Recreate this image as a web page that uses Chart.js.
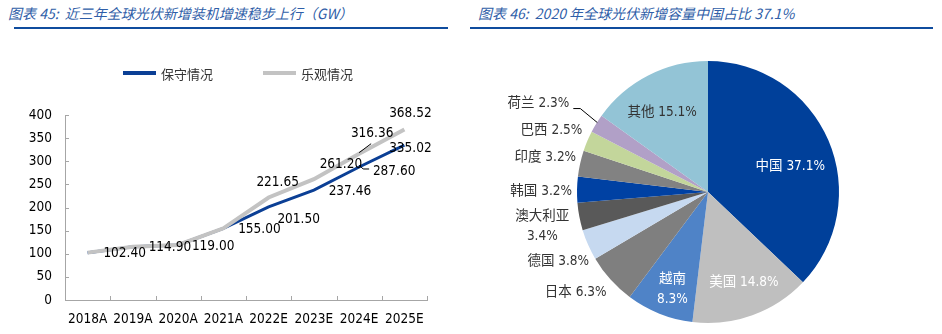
<!DOCTYPE html>
<html lang="zh">
<head>
<meta charset="UTF-8">
<title>全球光伏新增装机</title>
<style>
  body {
    margin: 0;
    width: 942px;
    height: 334px;
    position: relative;
    overflow: hidden;
    background: #fff;
    font-family: "Noto Sans CJK SC", sans-serif;
  }
  .title {
    position: absolute;
    top: 3px;
    font-size: 14px;
    font-style: italic;
    color: #2f5ea8;
    white-space: pre;
  }
  .rule {
    position: absolute;
    top: 27px;
    height: 2px;
    background: #0f4c9e;
  }
  .box {
    position: absolute;
    top: 40px;
    height: 294px;
  }
</style>
</head>
<body>
<div class="title" style="left:8px">图表 45:  近三年全球光伏新增装机增速稳步上行（GW）</div>
<div class="rule" style="left:14px;width:434px"></div>
<div class="title" style="left:478px">图表 46:  2020 年全球光伏新增容量中国占比 37.1%</div>
<div class="rule" style="left:470px;width:463px"></div>
<div class="box" style="left:0;width:460px"><canvas id="lineChart"></canvas></div>
<div class="box" style="left:470px;width:472px"><canvas id="pieChart"></canvas></div>

<script src="https://cdn.jsdelivr.net/npm/chart.js"></script>
<script>
// ---- data ----
const years = ['2018A', '2019A', '2020A', '2021A', '2022E', '2023E', '2024E', '2025E'];
const conservative = [102.40, 114.90, 119.00, 155.00, 201.50, 237.46, 287.60, 335.02];
const optimistic = [102.40, 114.90, 119.00, 155.00, 221.65, 261.20, 316.36, 368.52];
const seriesNames = ['保守情况', '乐观情况'];
const yTicks = [0, 50, 100, 150, 200, 250, 300, 350, 400];

const regions = ['中国', '美国', '越南', '日本', '德国', '澳大利亚', '韩国', '印度', '巴西', '荷兰', '其他'];
const shares = [37.1, 14.8, 8.3, 6.3, 3.8, 3.4, 3.2, 3.2, 2.5, 2.3, 15.1];

// ---- styles ----
const numFont = '"DejaVu Sans Condensed", "DejaVu Sans", "Noto Sans CJK SC", sans-serif';
const axisColor = '#a6a6a6';
const lineColors = ['#0b3f95', '#c3c3c3'];
const lineWidths = [3, 4];

// label offsets (px) from each point, null = no label
const consLabelOff = [[37, 1], [37, 1], [35, 2], [36, 1], [30, 13], [36, 1], [35, 5], [6, 3]];
const optLabelOff = [null, null, null, null, [9, -15], [27, -15], [13, -20], [6, -16]];

const sliceColors = ['#00409a', '#bfbfbf', '#4f83c7', '#7f7f7f', '#c6d9f0', '#595959',
                     '#0041a3', '#828282', '#c3d69b', '#b1a0c7', '#93c4d6'];
// k: fraction of radius for the anchor, dx/dy: shift, wrap: name and value on two lines
const pieLabelStyle = [
  { k: 0.65, dx: 4, dy: 8, align: 'center', color: '#fff' },
  { k: 0.65, dx: 7, dy: 10, align: 'center', color: '#fff' },
  { k: 0.65, dx: -4, dy: 18, align: 'center', color: '#fff', wrap: true },
  { k: 1, dx: -4, dy: 13, align: 'right', color: '#333' },
  { k: 1, dx: 1, dy: 17, align: 'right', color: '#333' },
  { k: 1, dx: -37, dy: 10, align: 'center', color: '#333', wrap: true },
  { k: 1, dx: -5, dy: 1.5, align: 'right', color: '#333' },
  { k: 1, dx: -4, dy: -6, align: 'right', color: '#333' },
  { k: 1, dx: -5, dy: -11, align: 'right', color: '#333' },
  { k: 1, dx: -27, dy: -20, align: 'right', color: '#333', leader: true },
  { k: 0.65, dx: -7, dy: -4, align: 'center', color: '#333' }
];

// ---- line chart plugins ----
const innerTicks = {
  id: 'innerTicks',
  beforeDatasetsDraw(chart) {
    const { ctx, chartArea: a, scales: { y } } = chart;
    const n = years.length;
    ctx.save();
    ctx.strokeStyle = axisColor;
    ctx.lineWidth = 1;
    ctx.beginPath();
    for (let i = 0; i <= n; i++) {
      const px = Math.round(a.left + i * (a.right - a.left) / n) + 0.5;
      ctx.moveTo(px, a.bottom);
      ctx.lineTo(px, a.bottom - 4);
    }
    yTicks.forEach(v => {
      const py = Math.round(y.getPixelForValue(v)) + 0.5;
      ctx.moveTo(a.left, py);
      ctx.lineTo(a.left + 4, py);
    });
    ctx.stroke();
    ctx.restore();
  }
};

const lineLabels = {
  id: 'lineLabels',
  afterDatasetsDraw(chart) {
    const { ctx } = chart;
    ctx.save();
    ctx.font = '13.5px ' + numFont;
    ctx.fillStyle = '#000';
    ctx.textAlign = 'center';
    ctx.textBaseline = 'middle';
    [consLabelOff, optLabelOff].forEach((offs, di) => {
      const meta = chart.getDatasetMeta(di);
      const vals = di === 0 ? conservative : optimistic;
      offs.forEach((o, j) => {
        if (!o) return;
        const p = meta.data[j];
        ctx.fillText(vals[j].toFixed(2), p.x + o[0], p.y + o[1]);
      });
    });
    // small leader lines
    ctx.strokeStyle = '#000';
    ctx.lineWidth = 1;
    const p6 = chart.getDatasetMeta(1).data[6];
    ctx.beginPath();
    ctx.moveTo(p6.x, p6.y - 1);
    ctx.lineTo(p6.x + 12, p6.y - 10);
    const q6 = chart.getDatasetMeta(0).data[6];
    ctx.moveTo(q6.x, q6.y - 2);
    ctx.lineTo(q6.x + 4, q6.y + 2);
    ctx.lineTo(q6.x + 10, q6.y + 2);
    ctx.stroke();
    ctx.restore();
  }
};

const topLegend = {
  id: 'topLegend',
  afterDraw(chart) {
    const { ctx } = chart;
    ctx.save();
    ctx.font = '13px "Noto Sans CJK SC", sans-serif';
    ctx.textBaseline = 'middle';
    const sw = 33, gap = 5, between = 50;
    const widths = seriesNames.map(t => sw + gap + ctx.measureText(t).width);
    const total = widths[0] + between + widths[1];
    let x = (chart.width - total) / 2 + 8;
    const y = 33;
    seriesNames.forEach((name, i) => {
      ctx.strokeStyle = lineColors[i];
      ctx.lineWidth = 4;
      ctx.beginPath();
      ctx.moveTo(x, y);
      ctx.lineTo(x + sw, y);
      ctx.stroke();
      ctx.fillStyle = '#333';
      ctx.fillText(name, x + sw + gap, y + 1);
      x += widths[i] + between;
    });
    ctx.restore();
  }
};

new Chart(document.getElementById('lineChart'), {
  type: 'line',
  data: {
    labels: years,
    datasets: [
      {
        label: seriesNames[0],
        data: conservative,
        borderColor: lineColors[0],
        backgroundColor: lineColors[0],
        borderWidth: lineWidths[0],
        pointRadius: 0,
        tension: 0,
        order: 1
      },
      {
        label: seriesNames[1],
        data: optimistic,
        borderColor: lineColors[1],
        backgroundColor: lineColors[1],
        borderWidth: lineWidths[1],
        pointRadius: 0,
        tension: 0,
        order: 0
      }
    ]
  },
  options: {
    responsive: true,
    maintainAspectRatio: false,
    animation: false,
    layout: { padding: { top: 75, right: 33, left: 0, bottom: 0 } },
    plugins: { legend: { display: false }, tooltip: { enabled: false } },
    scales: {
      x: {
        offset: true,
        grid: { display: false },
        border: { display: true, color: axisColor, width: 1 },
        ticks: {
          color: '#000',
          font: { size: 13.5, family: numFont },
          padding: 3,
          maxRotation: 0,
          autoSkip: false
        },
        afterFit: s => { s.height = 34; }
      },
      y: {
        min: 0,
        max: 400,
        grid: { display: false },
        border: { display: true, color: axisColor, width: 1 },
        ticks: {
          color: '#000',
          font: { size: 13.5, family: numFont },
          padding: 5
        },
        afterBuildTicks: s => { s.ticks = yTicks.map(v => ({ value: v })); },
        afterFit: s => { s.width = 65; }
      }
    }
  },
  plugins: [innerTicks, lineLabels, topLegend]
});

// ---- pie chart ----
const pieLabels = {
  id: 'pieLabels',
  afterDatasetsDraw(chart) {
    const { ctx } = chart;
    const meta = chart.getDatasetMeta(0);
    ctx.save();
    ctx.font = '13.5px ' + numFont;
    ctx.textBaseline = 'middle';
    meta.data.forEach((arc, i) => {
      const st = pieLabelStyle[i];
      const { x, y, startAngle, endAngle, outerRadius } = arc.getProps(['x', 'y', 'startAngle', 'endAngle', 'outerRadius'], true);
      const mid = (startAngle + endAngle) / 2;
      const ax = x + Math.cos(mid) * outerRadius * st.k;
      const ay = y + Math.sin(mid) * outerRadius * st.k;
      const lx = ax + st.dx, ly = ay + st.dy;
      const pct = shares[i].toFixed(1) + '%';
      ctx.fillStyle = st.color;
      ctx.textAlign = st.align;
      if (st.wrap) {
        ctx.fillText(regions[i], lx, ly - 10);
        ctx.fillText(pct, lx, ly + 10);
      } else {
        ctx.fillText(regions[i] + ' ' + pct, lx, ly);
      }
      if (st.leader) {
        ctx.strokeStyle = '#000';
        ctx.lineWidth = 1;
        ctx.beginPath();
        ctx.moveTo(lx + 4, ly + 5);
        ctx.lineTo(lx + 11, ly + 5);
        ctx.lineTo(ax + 1, ay - 1);
        ctx.stroke();
      }
    });
    ctx.restore();
  }
};

new Chart(document.getElementById('pieChart'), {
  type: 'pie',
  data: {
    labels: regions,
    datasets: [{
      data: shares,
      backgroundColor: sliceColors,
      borderWidth: 0
    }]
  },
  options: {
    responsive: true,
    maintainAspectRatio: false,
    animation: false,
    layout: { padding: { left: 107, right: 103, top: 21, bottom: 11 } },
    plugins: { legend: { display: false }, tooltip: { enabled: false } }
  },
  plugins: [pieLabels]
});
</script>
</body>
</html>
